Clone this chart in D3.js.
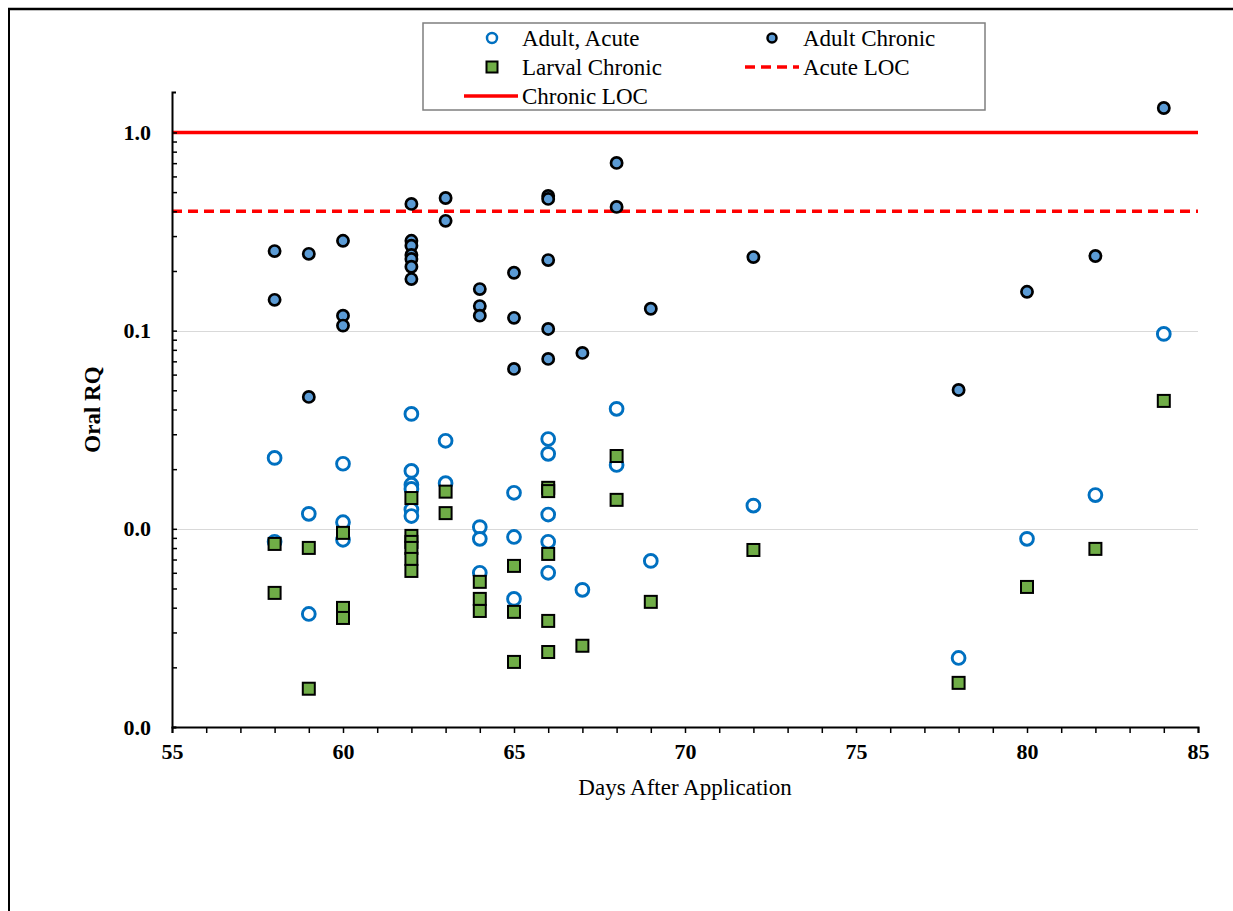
<!DOCTYPE html>
<html>
<head>
<meta charset="utf-8">
<script src="https://cdn.jsdelivr.net/npm/d3@7/dist/d3.min.js"></script>
<style>
  html, body { margin: 0; padding: 0; background: #fff; }
  svg { display: block; }
  text { font-family: "Liberation Serif", "Times New Roman", serif; fill: #000; }
</style>
</head>
<body>
<svg id="chart" width="1233" height="911"></svg>
<script>
// Sampling days and Oral RQ values for each exposure group
const acuteDays = [58, 58, 59, 59, 60, 60, 60, 62, 62, 62, 62, 62, 62, 63, 63, 64, 64, 64,
  65, 65, 65, 66, 66, 66, 66, 66, 67, 68, 68, 69, 72, 78, 80, 82, 84];
const acuteRQ = [0.0228, 0.0086, 0.0119, 0.00372, 0.0213, 0.0108, 0.0088, 0.0380, 0.0196, 0.0167, 0.0159, 0.0125, 0.0116,
  0.0278, 0.0170, 0.0102, 0.0089, 0.0060, 0.0152, 0.0091, 0.00443, 0.0284, 0.0239, 0.0118, 0.0086, 0.0060,
  0.00492, 0.0403, 0.0210, 0.00689, 0.0131, 0.00223, 0.0089, 0.0148, 0.0963];

const adultChronicDays = [58, 58, 59, 59, 60, 60, 60, 62, 62, 62, 62, 62, 62, 62, 63, 63, 64, 64, 64,
  65, 65, 65, 66, 66, 66, 66, 66, 67, 68, 68, 69, 72, 78, 80, 82, 84];
const adultChronicRQ = [0.252, 0.143, 0.244, 0.0463, 0.284, 0.119, 0.106, 0.436, 0.284, 0.268, 0.241, 0.230, 0.210, 0.182,
  0.467, 0.358, 0.162, 0.133, 0.119, 0.196, 0.116, 0.0641, 0.478, 0.462, 0.227, 0.102, 0.072,
  0.0772, 0.702, 0.421, 0.129, 0.235, 0.0502, 0.157, 0.238, 1.329];

const larvalDays = [58, 58, 59, 59, 60, 60, 60, 62, 62, 62, 62, 62, 62, 63, 63, 64, 64, 64,
  65, 65, 65, 66, 66, 66, 66, 66, 67, 68, 68, 69, 72, 78, 80, 82, 84];
const larvalRQ = [0.00839, 0.00475, 0.00801, 0.00156, 0.00954, 0.00399, 0.00355, 0.0143, 0.00921, 0.00859, 0.00801, 0.00705, 0.00613,
  0.0154, 0.0120, 0.0054, 0.00443, 0.00385, 0.0065, 0.00381, 0.00213, 0.0161, 0.0155, 0.00747, 0.00343, 0.00239,
  0.00257, 0.0233, 0.0140, 0.00428, 0.00782, 0.00167, 0.00509, 0.00792, 0.0442];

// Levels of concern
const acuteLOC = 0.4;
const chronicLOC = 1.0;

// Axis settings
const xDomain = [55, 85];
const yDomain = [0.001, 1.6];
const xMajorTicks = [55, 60, 65, 70, 75, 80, 85];
const yMajorTicks = [0.001, 0.01, 0.1, 1];
const xTitle = "Days After Application";
const yTitle = "Oral RQ";
const legendLabels = ["Adult, Acute", "Adult Chronic", "Larval Chronic", "Acute LOC", "Chronic LOC"];

const colors = {
  acute: "#0070C0",
  chronicFill: "#5B9BD5",
  larvalFill: "#70AD47",
  loc: "#FF0000"
};

const svg = d3.select("#chart");
const plot = { left: 172, right: 1198, top: 92, bottom: 727 };

const x = d3.scaleLinear().domain(xDomain).range([plot.left, plot.right]);
const y = d3.scaleLog().domain(yDomain).range([plot.bottom, plot.top]);

// Outer frame (top and left edges)
svg.append("line").attr("x1", 8).attr("x2", 1233).attr("y1", 9).attr("y2", 9)
  .attr("stroke", "#000").attr("stroke-width", 2.5);
svg.append("line").attr("x1", 9).attr("x2", 9).attr("y1", 8).attr("y2", 911)
  .attr("stroke", "#000").attr("stroke-width", 2);

// Horizontal gridlines at decades
svg.append("g").selectAll("line").data([0.01, 0.1, 1]).join("line")
  .attr("x1", plot.left).attr("x2", plot.right)
  .attr("y1", d => Math.round(y(d)) + 0.5).attr("y2", d => Math.round(y(d)) + 0.5)
  .attr("stroke", "#d9d9d9").attr("stroke-width", 1);

// LOC reference lines
svg.append("line")
  .attr("x1", plot.left).attr("x2", plot.right)
  .attr("y1", y(chronicLOC)).attr("y2", y(chronicLOC))
  .attr("stroke", colors.loc).attr("stroke-width", 3.5);
svg.append("line")
  .attr("x1", plot.left).attr("x2", plot.right)
  .attr("y1", y(acuteLOC)).attr("y2", y(acuteLOC))
  .attr("stroke", colors.loc).attr("stroke-width", 3.5)
  .attr("stroke-dasharray", "10,6");

// Y axis: labelled decades, ticks pointing inward
const yMinor = [];
for (let e = -3; e <= 0; e++) {
  for (let m = 2; m <= 9; m++) {
    const v = m * Math.pow(10, e);
    if (v <= yDomain[1]) yMinor.push(v);
  }
}
const yAxis = svg.append("g").attr("transform", `translate(${plot.left},0)`)
  .call(d3.axisLeft(y).tickValues(yMajorTicks).tickFormat(d3.format(".1f"))
    .tickSizeInner(-5).tickSizeOuter(-4).tickPadding(21));
yAxis.select(".domain").attr("stroke-width", 2);
yAxis.selectAll(".tick line").attr("stroke-width", 1.5);
yAxis.selectAll(".tick text").attr("font-size", 22).attr("font-weight", "bold")
  .attr("font-family", "'Liberation Serif', serif");
const yMinorAxis = svg.append("g").attr("transform", `translate(${plot.left},0)`)
  .call(d3.axisLeft(y).tickValues(yMinor).tickFormat("").tickSizeInner(-5).tickSizeOuter(0));
yMinorAxis.select(".domain").remove();
yMinorAxis.selectAll(".tick line").attr("stroke-width", 1.5);

// X axis: a tick every day, labels every five days
const xTicks = d3.range(xDomain[0], xDomain[1] + 1, 1);
const xAxis = svg.append("g").attr("transform", `translate(0,${plot.bottom})`)
  .call(d3.axisBottom(x).tickValues(xTicks)
    .tickFormat(d => xMajorTicks.includes(d) ? d3.format("d")(d) : "")
    .tickSize(6).tickSizeOuter(6).tickPadding(10));
xAxis.select(".domain").attr("stroke-width", 2);
xAxis.selectAll(".tick line").attr("stroke-width", 1.5);
xAxis.selectAll(".tick text").attr("font-size", 22).attr("font-weight", "bold")
  .attr("font-family", "'Liberation Serif', serif");

// Axis titles
svg.append("text")
  .attr("transform", `translate(100,${(plot.top + plot.bottom) / 2}) rotate(-90)`)
  .attr("text-anchor", "middle").attr("font-size", 23).attr("font-weight", "bold")
  .text(yTitle);
svg.append("text")
  .attr("x", (plot.left + plot.right) / 2).attr("y", 795)
  .attr("text-anchor", "middle").attr("font-size", 23)
  .text(xTitle);

// Data markers
const acutePts = acuteDays.map((d, i) => ({ d, v: acuteRQ[i] }));
const chronicPts = adultChronicDays.map((d, i) => ({ d, v: adultChronicRQ[i] }));
const larvalPts = larvalDays.map((d, i) => ({ d, v: larvalRQ[i] }));

svg.append("g").selectAll("circle").data(acutePts).join("circle")
  .attr("cx", p => x(p.d)).attr("cy", p => y(p.v)).attr("r", 6.4)
  .attr("fill", "#fff").attr("stroke", colors.acute).attr("stroke-width", 2.9);

svg.append("g").selectAll("circle").data(chronicPts).join("circle")
  .attr("cx", p => x(p.d)).attr("cy", p => y(p.v)).attr("r", 5.6)
  .attr("fill", colors.chronicFill).attr("stroke", "#000").attr("stroke-width", 2.7);

const sq = 12;
svg.append("g").selectAll("rect").data(larvalPts).join("rect")
  .attr("x", p => x(p.d) - sq / 2).attr("y", p => y(p.v) - sq / 2)
  .attr("width", sq).attr("height", sq)
  .attr("fill", colors.larvalFill).attr("stroke", "#000").attr("stroke-width", 2);

// Legend
const legend = svg.append("g");
legend.append("rect").attr("x", 423).attr("y", 23).attr("width", 562).attr("height", 87)
  .attr("fill", "#fff").attr("stroke", "#7f7f7f").attr("stroke-width", 1.5);
const rows = [38, 67, 96];
const legendText = (tx, ty, s) => legend.append("text").attr("x", tx).attr("y", ty)
  .attr("dy", "0.35em").attr("font-size", 23).text(s);

legend.append("circle").attr("cx", 492).attr("cy", rows[0]).attr("r", 5)
  .attr("fill", "#fff").attr("stroke", colors.acute).attr("stroke-width", 2.5);
legendText(522, rows[0], legendLabels[0]);

legend.append("circle").attr("cx", 772).attr("cy", rows[0]).attr("r", 4.5)
  .attr("fill", colors.chronicFill).attr("stroke", "#000").attr("stroke-width", 2.5);
legendText(803, rows[0], legendLabels[1]);

legend.append("rect").attr("x", 492 - 5.5).attr("y", rows[1] - 5.5).attr("width", 11).attr("height", 11)
  .attr("fill", colors.larvalFill).attr("stroke", "#000").attr("stroke-width", 2);
legendText(522, rows[1], legendLabels[2]);

legend.append("line").attr("x1", 745).attr("x2", 799).attr("y1", rows[1]).attr("y2", rows[1])
  .attr("stroke", colors.loc).attr("stroke-width", 3.5).attr("stroke-dasharray", "10,6");
legendText(803, rows[1], legendLabels[3]);

legend.append("line").attr("x1", 464).attr("x2", 518).attr("y1", rows[2]).attr("y2", rows[2])
  .attr("stroke", colors.loc).attr("stroke-width", 3.5);
legendText(522, rows[2], legendLabels[4]);
</script>
</body>
</html>
